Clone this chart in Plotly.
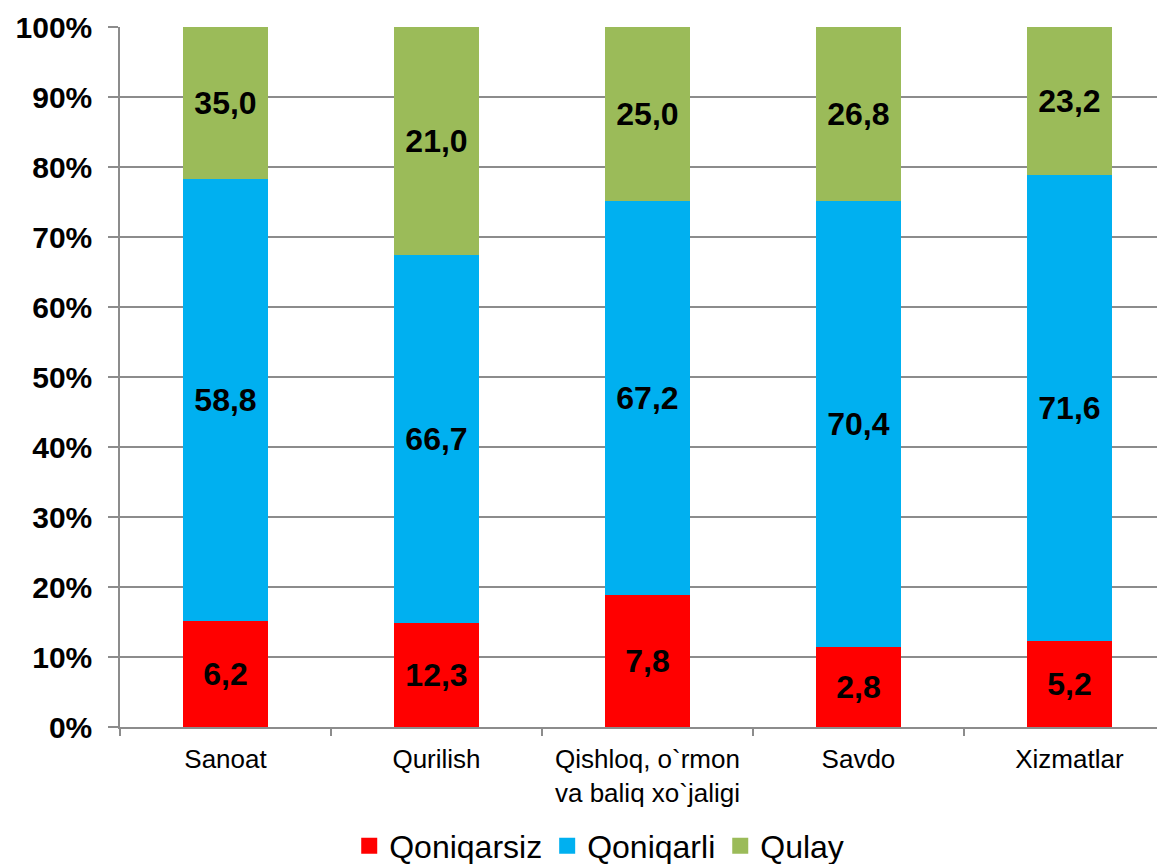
import plotly.graph_objects as go

categories = ["Sanoat", "Qurilish", "Qishloq, o`rmon<br>va baliq xo`jaligi", "Savdo", "Xizmatlar"]
series_names = ["Qoniqarsiz", "Qoniqarli", "Qulay"]
colors = ["#FF0000", "#00B0F0", "#9BBB59"]

# bar segment heights (percent of the 100% stack) as drawn in the picture
qoniqarsiz_h = [15.2, 14.9, 18.9, 11.4, 12.3]
qoniqarli_h = [63.1, 52.6, 56.3, 63.8, 66.6]
qulay_h = [21.7, 32.5, 24.8, 24.8, 21.1]

# data labels printed on the segments
qoniqarsiz_lbl = ["6,2", "12,3", "7,8", "2,8", "5,2"]
qoniqarli_lbl = ["58,8", "66,7", "67,2", "70,4", "71,6"]
qulay_lbl = ["35,0", "21,0", "25,0", "26,8", "23,2"]

y_ticks = [0, 10, 20, 30, 40, 50, 60, 70, 80, 90, 100]
y_tick_text = ["0%", "10%", "20%", "30%", "40%", "50%", "60%", "70%", "80%", "90%", "100%"]

heights = [qoniqarsiz_h, qoniqarli_h, qulay_h]
labels = [qoniqarsiz_lbl, qoniqarli_lbl, qulay_lbl]

font_family = "Liberation Sans, Arial, sans-serif"

fig = go.Figure()
for name, h, lbl, c in zip(series_names, heights, labels, colors):
    fig.add_trace(go.Bar(
        name=name, x=categories, y=h, text=lbl,
        texttemplate="<b>%{text}</b>",
        textposition="inside", insidetextanchor="middle",
        textfont=dict(family=font_family, size=32, color="black"),
        marker=dict(color=c, line=dict(width=0)),
        width=0.4, constraintext="none", showlegend=False,
    ))
# legend entries (square swatches)
for name, c in zip(series_names, colors):
    fig.add_trace(go.Scatter(
        name=name, x=[None], y=[None], mode="markers",
        marker=dict(symbol="square", size=16, color=c),
        showlegend=True, hoverinfo="skip",
    ))

# the page body adds an 8px offset; size the figure so the plot area lands on the reference's pixels
fig.update_layout(
    barmode="stack",
    width=1157, height=856,
    margin=dict(l=112, r=0, t=19, b=137, autoexpand=False),
    paper_bgcolor="white", plot_bgcolor="white",
    font=dict(family=font_family, color="black"),
    showlegend=True,
    legend=dict(orientation="h", xref="container", yref="container",
                x=0.511, xanchor="center", y=0.021, yanchor="middle",
                font=dict(size=32, family=font_family),
                traceorder="normal", itemwidth=30, itemsizing="trace"),
)
fig.update_xaxes(
    type="category", range=[-0.5, 4.453], automargin=False,
    showline=True, linecolor="#8C8C8C", linewidth=1.5,
    ticks="outside", tickson="boundaries", ticklen=7, tickcolor="#8C8C8C", tickwidth=1.5,
    showgrid=False, ticklabelstandoff=8,
    tickfont=dict(size=26, family=font_family, color="black"),
)
fig.update_yaxes(
    range=[0, 100], tickvals=y_ticks, ticktext=y_tick_text, automargin=False,
    showline=True, linecolor="#8C8C8C", linewidth=1.5,
    ticks="outside", ticklen=10, tickcolor="#8C8C8C", tickwidth=1.5,
    showgrid=True, gridcolor="#8C8C8C", gridwidth=1.5,
    zeroline=False, ticklabelstandoff=10,
    tickfont=dict(size=30, family=font_family, color="black", weight="bold"),
)

fig.write_html("out.html")
